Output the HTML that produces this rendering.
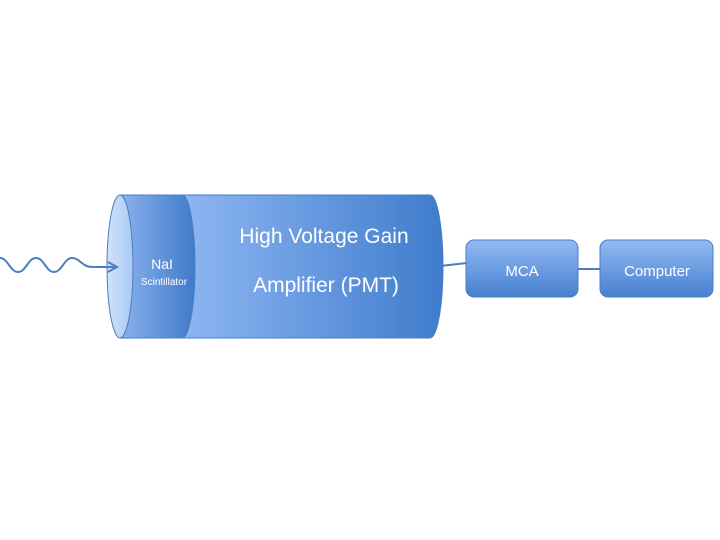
<!DOCTYPE html>
<html><head><style>body{margin:0;background:#fff}svg{display:block}</style></head><body>
<svg width="720" height="540" xmlns="http://www.w3.org/2000/svg" font-family="Liberation Sans, sans-serif">
<defs>
<linearGradient id="pmt" x1="0" x2="1" y1="0" y2="0"><stop offset="0" stop-color="#8db6f3"/><stop offset="1" stop-color="#3f7ccc"/></linearGradient>
<linearGradient id="sc" x1="0" x2="1" y1="0" y2="0"><stop offset="0" stop-color="#8ab2ee"/><stop offset="1" stop-color="#3f7bcb"/></linearGradient>
<linearGradient id="cap" x1="0" x2="1" y1="0" y2="0"><stop offset="0" stop-color="#d2e3fb"/><stop offset="1" stop-color="#a9c8f4"/></linearGradient>
<linearGradient id="box" x1="0" x2="0" y1="0" y2="1"><stop offset="0" stop-color="#93b9f3"/><stop offset="1" stop-color="#4581d0"/></linearGradient>
</defs>
<line x1="440" y1="266" x2="467" y2="263" stroke="#4a7ebf" stroke-width="2"/>
<line x1="578" y1="269" x2="601" y2="269" stroke="#4a7ebf" stroke-width="2"/>
<path d="M183,195 L430,195 A13,71.5 0 0 1 430,338 L183,338 Z" fill="url(#pmt)" stroke="#4a7ebf" stroke-width="1"/>
<path d="M120,195 L182,195 A13,71.5 0 0 1 182,338 L120,338 Z" fill="url(#sc)" stroke="#4a7ebf" stroke-width="1"/>
<ellipse cx="120" cy="266.5" rx="13" ry="71.5" fill="url(#cap)" stroke="#4a7ebf" stroke-width="1"/>
<path d="M0,258 C8,258 10,272 18,272 C26,272 28,258 36,258 C44,258 46,272 54,272 C62,272 64,258 72,258 C80,258 82,267 92,267 L116,267" fill="none" stroke="#4a7ebf" stroke-width="2"/>
<path d="M108,262 L117,267 L108,272" fill="none" stroke="#4a7ebf" stroke-width="2"/>
<text x="162" y="269" fill="#fff" font-size="14" text-anchor="middle">NaI</text>
<text x="164" y="285" fill="#fff" font-size="10" text-anchor="middle">Scintillator</text>
<text x="324" y="243" fill="#fff" font-size="21" text-anchor="middle">High Voltage Gain</text>
<text x="326" y="292" fill="#fff" font-size="21" text-anchor="middle">Amplifier (PMT)</text>
<rect x="466" y="240" width="112" height="57" rx="8" fill="url(#box)" stroke="#4a7ebf"/>
<rect x="600" y="240" width="113" height="57" rx="8" fill="url(#box)" stroke="#4a7ebf"/>
<text x="522" y="276" fill="#fff" font-size="15" text-anchor="middle">MCA</text>
<text x="657" y="276" fill="#fff" font-size="15" text-anchor="middle">Computer</text>
</svg>
</body></html>
